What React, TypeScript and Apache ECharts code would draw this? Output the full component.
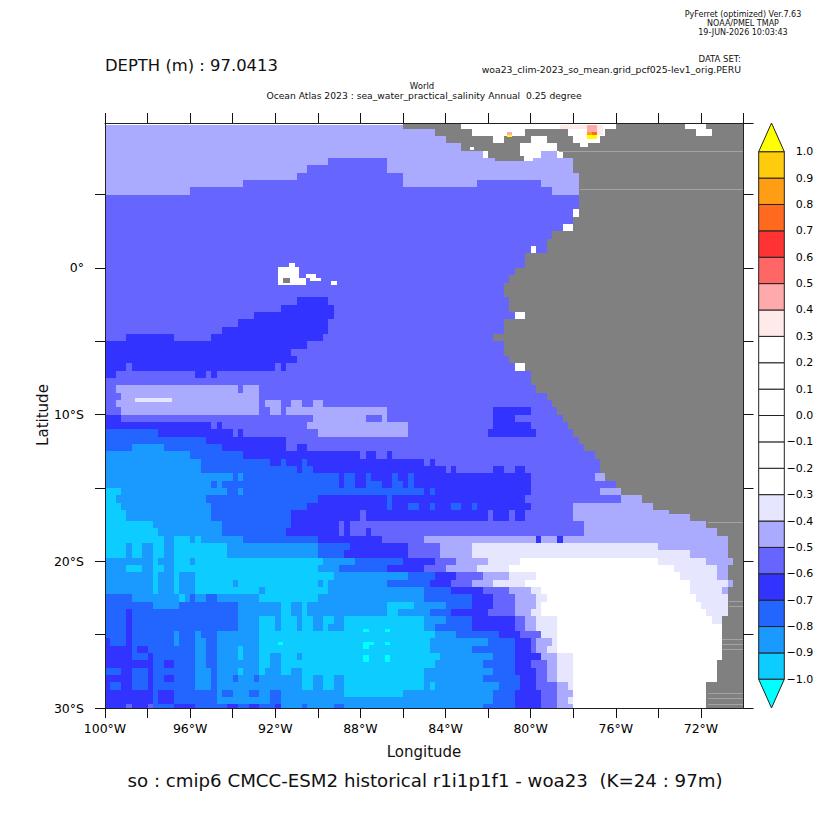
import React, { useEffect, useRef } from "react";
import * as echarts from "echarts";

// Each row: code + end column (0.25 degree columns from 100W). Bands are 0.5 degree tall.
// North block starts at 10N, south block starts at 16.75S.
const rowsNorth = [
  "B56#67.96#109.113#120",
  "B62#69.79#87.94#111.114#120",
  "B64#73.75#80.83#88.93#120",
  "B67#78.85#120",
  "B71.72#78.82B85.86#120",
  "B42C53B88#120",
  "B38C53B88#120",
  "B36C56B89#120",
  "B26C56B70C82B89#120",
  "B16C84B89#120",
  "C89#120",
  "C89#120",
  "C88.89#120",
  "C88#120",
  "C86.88#120",
  "C84#120",
  "C83#120",
  "C80.81C83#120",
  "C79#120",
  "C79#120",
  "C77#120",
  "C76#120",
  "C75#120",
  "C75#120",
  "C36D42C76#120",
  "C33D43C76#120",
  "C28D43C77.79#120",
  "C25D42C75#120",
  "C22D42C75#120",
  "C4D13C20D41C73#120",
  "D38C75#120",
  "D35C75#120",
  "D36C76#120",
  "D4C5D32C33D34C77.79#120",
  "D2C17D19C20D21C80#120",
  "C80#120",
  "C2B25C26B29C81#120",
  "C3B29C83#120",
  "C2B29C30B33C35B37C39B41C84#120",
  "C3B29C31B33C34B53C73D80C85#120",
  "D3C39B49C52B53C73D77C86#120",
  "D20C21D22C38B57C73D80C87#120",
  "E10D24C25D26C40B57C72D81C88#120",
  "E19D34C89#120",
  "E5F11E22D34C36D38C90#120",
  "F16E26D48C49D51C53D54C92#120",
  "F18E31D33E34D37E38D60C61D62C93#120",
  "F18E36D37E39D64C65D66C73D75C77D79C93#120",
  "F24E25F26E44D45E47D49E50D54E55D57E58D80C92B94#120",
  "F20E21F22E44D45E47D49E52D54E56D57E58D80C96#120",
  "G3F23E25F26E60D61E62D80C93B97#120",
  "G2F19E40D53E54D79C97B101#120",
  "G3F20E38D53E54D57E59D61E62D65E67D69E70D80C88B103#120",
  "G4F20E35D48C49D72C73D76C77D79C88B106#120",
];

const rowsSouth = [
  "G4F20E35D48C49D72C73D76C77D79C88B110#120",
  "G9F22E35D44C45D46C90B113#120",
  "G10F22E34D44C45D46C49D50C90B115#120",
  "G11F13G16F17G18F26E40D52C60B81D82B85D86B117#120",
  "G4F5G7F9G11F13G23F40E46D57C63B69A104B117#120",
  "G4F5G7F9G11F13G23F40E45D57C63B69A110B117#120",
  "F9G10F13G16F17G41F47E56D62C66B72A78.104A113B118#120",
  "F4G7F9G11F13G40F44E53D60C64B70A76.107A115B117#120",
  "F9G10F13G14F17G43F57E62D66C71B76A81.108A115B117#120",
  "F9G10F13G14F17G24F25G40F41G42F53E61D65C69B73A79.110A117B118#120",
  "F9G10F13G14F17G29F30G42F60E65D71C76B80A82.110A116B117#120",
  "E5F14G15F16E17F19E21F29G40F60E69D73C77B81A83.111A117#120",
  "E9F14E25F33G35F37G38F53G58F64E69D73C77B81A82.112A117#120",
  "E4D5E25F33G35F37G38F53G55F61E65D72C77B80A82.113A117#120",
  "E4D5E25F29G32F33G36F37G39F41G43F45G60F64E69D77C79B81A85.114A116#120",
  "E4D5E25F29G32F33G36F37G39F41G42F45G60F62E69D77C79B81A85.116#120",
  "E4D5E13F14E17F18E21F29G62F66E74D78C82A85.116#120",
  "D1E4D5E13F14E17F19E21F29G61F72E77D80C81B84A85.116#120",
  "D5E6D8E17F19E21F25G26F29G61F69E77D80C81B83A85.116#120",
  "D5E8D9E17F19E21F25G26F29G31F33G36F37G63F73E77D82B85A88.116#120",
  "D9E11D13E17F19E21F29G31F33G62F71E77D80C83B85A88.115#120",
  "E3D5E8D9E17F20E21F25G26F29G30F33G35F37G60F73E77D81C83B85A88.115#120",
  "D5E8D9E11D13E17F20E21F24E25F28E29F37G39F41G43F45G60F71E78D81C83B85A88.115#120",
  "D1E3D5E8D9E17F20E21F37G39F41G43F45G60F61G62F74E78D81C85B87A88.113#120",
  "D9E10D13E21F22E24F27E29F31E33F45G56F73E77D82C85B88.113#120",
  "D9E10D13E21F31E33F73E77D82C85B87A88.113#120",
  "D4C5D8C9E13D17E23D25E27D29E32D33F37E38F43E45F71E77D82C85B88.113#120",
];

// Small features finer than a band: [col0, col1, row0, row1, code], rows counted from 10N in 0.5 degree.
const detailCells: [number, number, number, number, string][] = [
  [0, 56, 0, 0.5, "."],
  [85.5, 93.6, 0.5, 1, "p"],
  [90.6, 92.5, 0.5, 1.5, "q"],
  [92.5, 93.6, 0.5, 1.9, "p"],
  [90.6, 91.5, 1.5, 1.9, "u"],
  [91.5, 92.5, 1.5, 1.9, "t"],
  [90.6, 92.5, 1.9, 2.4, "w"],
  [75.5, 76.5, 1.5, 1.9, "q"],
  [75.5, 76.5, 1.9, 2.1, "w"],
  [68.6, 69.4, 3.5, 3.9, "."],
  [89.3, 90.8, 2.8, 3.5, "."],
  [73.3, 78.8, 4.8, 5.4, "#"],
  [78.8, 80.5, 4.8, 5.4, "."],
  [34.6, 35.7, 19.3, 19.9, "."],
  [32.5, 36.5, 19.9, 21.4, "."],
  [32.5, 37.7, 21.4, 22.3, "."],
  [33.5, 34.8, 21.4, 22.1, "#"],
  [37.7, 39.6, 20.8, 21.4, "."],
  [38.5, 40.6, 21.4, 21.8, "."],
  [42.5, 43.6, 21.8, 22.3, "."],
  [5.6, 12.6, 37.7, 38.3, "A"],
  [48.5, 49.6, 69.27, 69.67, "H"],
  [52.6, 53.5, 69.27, 69.67, "H"],
  [48.5, 50.5, 71.03, 71.44, "H"],
  [48.5, 49.6, 71.44, 71.98, "H"],
  [52.6, 53.5, 71.03, 71.44, "H"],
  [48.5, 49.6, 72.8, 73.77, "H"],
  [52.6, 53.5, 72.8, 73.77, "H"],
  [32.5, 33.5, 71.03, 71.44, "H"],
  [85.3, 120, 4.05, 4.19, "g"],
  [89.3, 120, 9.3, 9.44, "g"],
  [113.3, 120, 54.66, 54.8, "g"],
  [117.3, 120, 65.35, 65.49, "g"],
  [117.3, 120, 66.03, 66.17, "g"],
  [116, 120, 70.63, 70.77, "g"],
  [116, 120, 71.3, 71.44, "g"],
  [116, 120, 72, 72.14, "g"],
  [113.3, 120, 78, 78.14, "g"],
  [113.3, 120, 78.7, 78.84, "g"],
  [113.3, 120, 79.4, 79.54, "g"],
];

const codeColors: Record<string, string> = {
  "#": "#808080",
  ".": "#ffffff",
  g: "#a3a3a3",
  A: "#e6e6ff",
  B: "#aaaaff",
  C: "#6666ff",
  D: "#3333ff",
  E: "#2266ff",
  F: "#1a99ff",
  G: "#0dccff",
  H: "#00ffff",
  p: "#ffeaea",
  q: "#ffaaaa",
  t: "#ff6a1e",
  u: "#ff9e14",
  w: "#ffff00",
};

const barLevels = [
  -1, -0.9, -0.8, -0.7, -0.6, -0.5, -0.4, -0.3, -0.2, -0.1, 0, 0.1, 0.2, 0.3, 0.4, 0.5, 0.6, 0.7, 0.8, 0.9, 1,
];
const barColors = [
  "#0dccff", "#1a99ff", "#2266ff", "#3333ff", "#6666ff", "#aaaaff", "#e6e6ff", "#ffffff", "#ffffff", "#ffffff",
  "#ffffff", "#ffffff", "#ffffff", "#ffeaea", "#ffaaaa", "#ff6666", "#ff3333", "#ff6a1e", "#ff9e14", "#ffcc0d",
];

const parseRow = (s: string, latTop: number) => {
  const out: any[] = [];
  let start = 0;
  for (const m of s.matchAll(/([A-Za-z.#])(\d+)/g)) {
    const end = Number(m[2]);
    out.push([-100 + start / 4, -100 + end / 4, latTop, latTop - 0.5, m[1]]);
    start = end;
  }
  return out;
};

const buildCells = () => {
  const cells: any[] = [];
  rowsNorth.forEach((r, i) => cells.push(...parseRow(r, 10 - i * 0.5)));
  rowsSouth.forEach((r, i) => cells.push(...parseRow(r, -16.75 - i * 0.5)));
  detailCells.forEach(([c0, c1, r0, r1, code]) =>
    cells.push([-100 + c0 / 4, -100 + c1 / 4, 10 - r0 / 2, 10 - r1 / 2, code])
  );
  return cells;
};

const FONT = "DejaVu Sans";

const txt = (x: number, y: number, text: string, fontSize: number, textAlign: string = "left", rotation = 0) => ({
  type: "text",
  x,
  y,
  rotation,
  style: { text, fontSize, fontFamily: FONT, fill: "#111", textAlign, textVerticalAlign: "middle" },
});

export default function App() {
  const ref = useRef<HTMLDivElement>(null);
  useEffect(() => {
    const chart = echarts.init(ref.current!, undefined, { renderer: "svg" });
    const lonLabel = (v: number) => ((v + 100) % 4 === 0 && v < -70 ? `${-v}°W` : "");
    const latLabel = (v: number) => {
      if (v % 10 !== 0) return "";
      return v === 0 ? "0°" : v < 0 ? `${-v}°S` : `${v}°N`;
    };
    const axisStyle = { show: true, onZero: false, lineStyle: { color: "#222", width: 1 } };
    const tick = { show: true, length: 10, lineStyle: { color: "#111", width: 1 } };
    const barData: any[] = barColors.map((_, i) => [barLevels[i], barLevels[i + 1], i]);
    chart.setOption({
      animation: false,
      backgroundColor: "#fff",
      grid: [
        { left: 105, top: 123, width: 638.5, height: 585 },
        { left: 758.7, top: 151.7, width: 25.6, height: 527.6 },
      ],
      xAxis: [
        {
          type: "value", gridIndex: 0, min: -100, max: -70, interval: 2, position: "bottom", z: 5,
          axisLine: axisStyle, axisTick: tick, splitLine: { show: false },
          axisLabel: { formatter: lonLabel, fontFamily: FONT, fontSize: 12.5, color: "#000", margin: 14, showMaxLabel: false, hideOverlap: false },
        },
        {
          type: "value", gridIndex: 0, min: -100, max: -70, interval: 2, position: "top", z: 5,
          axisLine: axisStyle, axisTick: tick, splitLine: { show: false }, axisLabel: { show: false },
        },
        { type: "value", gridIndex: 1, min: 0, max: 1, show: false },
      ],
      yAxis: [
        {
          type: "value", gridIndex: 0, min: -30, max: 9.88, interval: 5, position: "left", z: 5,
          axisLine: axisStyle, axisTick: tick, splitLine: { show: false },
          axisLabel: { formatter: latLabel, fontFamily: FONT, fontSize: 12.5, color: "#000", margin: 21, showMaxLabel: false },
        },
        {
          type: "value", gridIndex: 0, min: -30, max: 9.88, interval: 5, position: "right", z: 5,
          axisLine: axisStyle, axisTick: tick, splitLine: { show: false }, axisLabel: { show: false },
        },
        {
          type: "value", gridIndex: 1, min: -1, max: 1, interval: 0.1, position: "right",
          axisLine: { show: false }, axisTick: { show: false }, splitLine: { show: false },
          axisLabel: {
            align: "right", margin: 29, fontFamily: FONT, fontSize: 11, color: "#000",
            formatter: (v: number) => (v < -0.001 ? "\u2212" + Math.abs(v).toFixed(1) : Math.abs(v).toFixed(1)),
          },
        },
      ],
      series: [
        {
          type: "custom",
          xAxisIndex: 0,
          yAxisIndex: 0,
          clip: true,
          silent: true,
          data: buildCells(),
          encode: { x: [0, 1], y: [2, 3] },
          renderItem: (_: any, api: any) => {
            const a = api.coord([api.value(0), api.value(2)]);
            const b = api.coord([api.value(1), api.value(3)]);
            const x0 = Math.round(a[0]);
            const x1 = Math.round(b[0]);
            const y0 = Math.round(a[1]);
            const y1 = Math.max(Math.round(b[1]), y0 + 1);
            return {
              type: "rect",
              shape: { x: x0, y: y0, width: x1 - x0, height: y1 - y0 },
              style: { fill: codeColors[api.value(4) as string] },
            };
          },
          dimensions: [
            { name: "x0", type: "number" },
            { name: "x1", type: "number" },
            { name: "y0", type: "number" },
            { name: "y1", type: "number" },
            { name: "code", type: "ordinal" },
          ],
        },
        {
          type: "custom",
          xAxisIndex: 2,
          yAxisIndex: 2,
          clip: false,
          silent: true,
          data: barData,
          encode: { y: [0, 1] },
          renderItem: (_: any, api: any) => {
            const a = api.coord([0, api.value(1)]);
            const b = api.coord([1, api.value(0)]);
            return {
              type: "rect",
              shape: { x: a[0], y: a[1], width: b[0] - a[0], height: b[1] - a[1] },
              style: { fill: barColors[api.value(2) as number], stroke: "#222", lineWidth: 1 },
            };
          },
        },
        {
          type: "custom",
          xAxisIndex: 2,
          yAxisIndex: 2,
          clip: false,
          silent: true,
          data: [
            [1, 1.1087, 0],
            [-1, -1.1087, 1],
          ],
          encode: { y: [0, 1] },
          renderItem: (_: any, api: any) => {
            const p0 = api.coord([0, api.value(0)]);
            const p1 = api.coord([1, api.value(0)]);
            const p2 = api.coord([0.5, api.value(1)]);
            return {
              type: "polygon",
              shape: { points: [p0, p1, p2] },
              style: { fill: api.value(2) === 0 ? "#ffff00" : "#00ffff", stroke: "#222", lineWidth: 1 },
            };
          },
        },
      ],
      graphic: [
        txt(743, 14, "PyFerret (optimized) Ver.7.63", 8, "center"),
        txt(743, 23, "NOAA/PMEL TMAP", 8, "center"),
        txt(743, 32, "19-JUN-2026 10:03:43", 8, "center"),
        txt(105, 65, "DEPTH (m) : 97.0413", 16.4),
        txt(741, 59, "DATA SET:", 8.5, "right"),
        txt(741, 69, "woa23_clim-2023_so_mean.grid_pcf025-lev1_orig.PERU", 9.3, "right"),
        txt(422, 86, "World", 8.5, "center"),
        txt(424, 95, "Ocean Atlas 2023 : sea_water_practical_salinity Annual  0.25 degree", 9.2, "center"),
        txt(424, 752, "Longitude", 15, "center"),
        txt(43, 415, "Latitude", 15, "center", Math.PI / 2),
        txt(425, 780, "so : cmip6 CMCC-ESM2 historical r1i1p1f1 - woa23  (K=24 : 97m)", 18.2, "center"),
      ],
    });
    return () => chart.dispose();
  }, []);
  return <div ref={ref} style={{ position: "absolute", left: 0, top: 0, width: 832, height: 832 }} />;
}
